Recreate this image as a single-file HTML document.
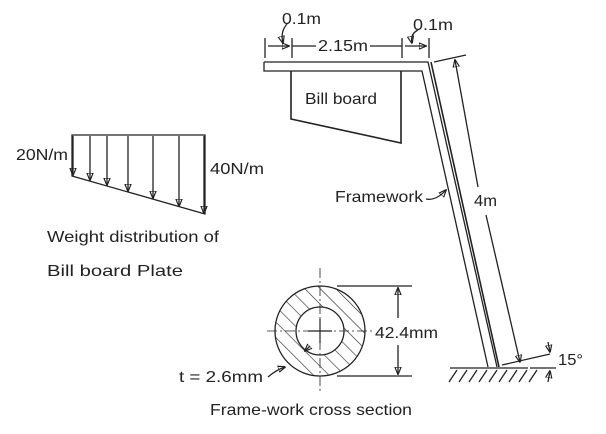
<!DOCTYPE html>
<html><head><meta charset="utf-8"><style>
html,body{margin:0;padding:0;background:#fff;}
svg{display:block;}
text{font-family:"Liberation Sans",sans-serif;fill:#222;}
</style></head><body>
<svg width="606" height="434" viewBox="0 0 606 434" xmlns="http://www.w3.org/2000/svg">
<defs>
<marker id="a" viewBox="0 0 10 10" refX="9" refY="5" markerWidth="6" markerHeight="6" orient="auto-start-reverse"><path d="M0,1 L10,5 L0,9 z" fill="none" stroke="#222" stroke-width="1.5"/></marker>
<clipPath id="ring"><path d="M275,331 a45,45 0 1,0 90,0 a45,45 0 1,0 -90,0 Z M296,331 a24,24 0 1,1 48,0 a24,24 0 1,1 -48,0 Z" clip-rule="evenodd"/></clipPath>
<pattern id="h" width="11" height="11" patternUnits="userSpaceOnUse" patternTransform="rotate(-45)"><line x1="0" y1="0" x2="0" y2="11" stroke="#222" stroke-width="1.2"/></pattern>
</defs>
<g stroke="#222" fill="none" stroke-width="1.3">
<path d="M264,62 L428,62 L497,367"/>
<path d="M264,62 L264,71 L422,71 L488,367" />
<path d="M431,62 L499,367" stroke-width="1.6"/>
<path d="M291,71 L291,119 L401,143 L401,71" stroke-width="1.6"/>
<line x1="265" y1="38" x2="265" y2="58"/>
<line x1="292" y1="38" x2="292" y2="58"/>
<line x1="402" y1="38" x2="402" y2="58"/>
<line x1="429" y1="38" x2="429" y2="58"/>
<line x1="268" y1="46" x2="289" y2="46" marker-end="url(#a)"/>
<line x1="292" y1="46" x2="316" y2="46"/>
<line x1="370" y1="46" x2="402" y2="46"/>
<line x1="405" y1="46" x2="426" y2="46" marker-end="url(#a)"/>
<path d="M287,24 Q280,32 283,43" marker-end="url(#a)"/>
<path d="M418,30 Q410,34 412,43" marker-end="url(#a)"/>
<line x1="434" y1="62" x2="466" y2="55"/>
<line x1="455" y1="60" x2="478" y2="187" marker-start="url(#a)"/>
<line x1="486" y1="215" x2="520" y2="362" marker-end="url(#a)"/>
<line x1="450" y1="368" x2="528" y2="368"/>
<path d="M457,370 l-8,12 M467,370 l-8,12 M477,370 l-8,12 M487,370 l-8,12 M497,370 l-8,12 M507,370 l-8,12 M517,370 l-8,12 M527,370 l-8,12 M537,370 l-8,12"/>
<line x1="502" y1="365" x2="550" y2="354"/>
<line x1="530" y1="368" x2="556" y2="368"/>
<line x1="548" y1="342" x2="550" y2="352" marker-end="url(#a)"/>
<line x1="548" y1="382" x2="550" y2="371" marker-end="url(#a)"/>
<path d="M426,199 Q436,201 446,190" marker-end="url(#a)"/>
<path d="M72,135 L205,135 L205,214 L72,176 Z"/>
<line x1="90" y1="136" x2="90" y2="180" marker-end="url(#a)"/>
<line x1="107" y1="136" x2="107" y2="185" marker-end="url(#a)"/>
<line x1="128" y1="136" x2="128" y2="191" marker-end="url(#a)"/>
<line x1="153" y1="136" x2="153" y2="198" marker-end="url(#a)"/>
<line x1="179" y1="136" x2="179" y2="206" marker-end="url(#a)"/>
<line x1="204" y1="136" x2="204" y2="213" marker-end="url(#a)"/>
<line x1="73" y1="136" x2="73" y2="175" marker-end="url(#a)"/>
<rect x="270" y="280" width="100" height="102" fill="url(#h)" stroke="none" clip-path="url(#ring)"/>
<circle cx="320" cy="331" r="45"/>
<circle cx="320" cy="331" r="24"/>
<line x1="320" y1="268" x2="320" y2="392" stroke-dasharray="10,3,2,3" stroke-width="0.8"/>
<line x1="267" y1="331" x2="372" y2="331" stroke-dasharray="10,3,2,3" stroke-width="0.8"/>
<line x1="308" y1="331" x2="332" y2="331" stroke-width="1.2"/>
<line x1="320" y1="319" x2="320" y2="343" stroke-width="1.2"/>
<line x1="337" y1="286" x2="412" y2="286"/>
<line x1="337" y1="376" x2="412" y2="376"/>
<line x1="398" y1="318" x2="398" y2="288" marker-end="url(#a)"/>
<line x1="398" y1="345" x2="398" y2="374" marker-end="url(#a)"/>
<line x1="310" y1="346" x2="305" y2="351" marker-end="url(#a)"/>
<path d="M268,377 Q276,370 285,367" marker-end="url(#a)"/>
</g>
<g font-size="16">
<text x="282" y="24" textLength="39" lengthAdjust="spacingAndGlyphs">0.1m</text>
<text x="413" y="30" textLength="40" lengthAdjust="spacingAndGlyphs">0.1m</text>
<text x="318" y="51" textLength="50" lengthAdjust="spacingAndGlyphs">2.15m</text>
<text x="305" y="104" textLength="72" lengthAdjust="spacingAndGlyphs">Bill board</text>
<text x="335" y="202" textLength="88" lengthAdjust="spacingAndGlyphs">Framework</text>
<text x="474" y="206" textLength="23" lengthAdjust="spacingAndGlyphs">4m</text>
<text x="16" y="160" textLength="52" lengthAdjust="spacingAndGlyphs">20N/m</text>
<text x="210" y="174" textLength="54" lengthAdjust="spacingAndGlyphs">40N/m</text>
<text x="47" y="242" textLength="172" lengthAdjust="spacingAndGlyphs">Weight distribution of</text>
<text x="47" y="276" textLength="136" lengthAdjust="spacingAndGlyphs">Bill board Plate</text>
<text x="375" y="338" textLength="63" lengthAdjust="spacingAndGlyphs">42.4mm</text>
<text x="179" y="382" textLength="84" lengthAdjust="spacingAndGlyphs">t = 2.6mm</text>
<text x="210" y="415" textLength="202" lengthAdjust="spacingAndGlyphs">Frame-work cross section</text>
<text x="558" y="365" textLength="25" lengthAdjust="spacingAndGlyphs">15°</text>
</g>
</svg>
</body></html>
